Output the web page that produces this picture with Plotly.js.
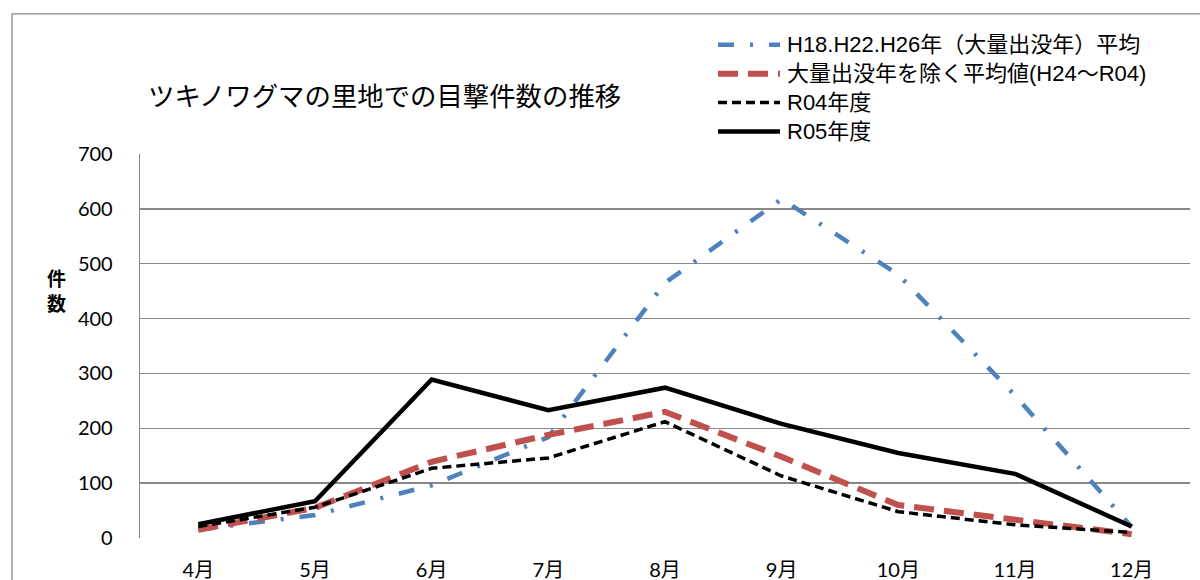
<!DOCTYPE html>
<html>
<head>
<meta charset="utf-8">
<script src="https://cdn.plot.ly/plotly-3.0.1.min.js"></script>
<style>
html,body{margin:0;padding:0;background:#fff;}
#chart{width:1200px;height:580px;}
</style>
</head>
<body>
<div id="chart"></div>
<script>
const months = ["4月","5月","6月","7月","8月","9月","10月","11月","12月"];
const seriesNames = ["H18.H22.H26年（大量出没年）平均","大量出没年を除く平均値(H24～R04)","R04年度","R05年度"];
const massYearsAvg = [15, 42, 96, 184, 465, 618, 480, 260, 20];
const normalYearsAvg = [15, 55, 139, 188, 230, 148, 60, 33, 7];
const r04 = [21, 56, 127, 146, 212, 113, 48, 24, 10];
const r05 = [25, 67, 289, 233, 274, 208, 155, 117, 21];
const yTicks = [0,100,200,300,400,500,600,700];

const jpFont = "Liberation Sans, Noto Sans CJK JP, sans-serif";
const numFont = "Lato, Noto Sans CJK JP, sans-serif";

const lineStyles = [
  {color: "#4F81BD", width: 4.5, dash: "16px,16px,3px,16px"},
  {color: "#C0504D", width: 6, dash: "20px,10px"},
  {color: "#000000", width: 3.5, dash: "9px,5px"},
  {color: "#000000", width: 4.5}
];
const seriesValues = [massYearsAvg, normalYearsAvg, r04, r05];

const traces = seriesValues.map((vals, i) => ({
  x: months, y: vals, name: seriesNames[i], mode: "lines",
  line: lineStyles[i], showlegend: false
}));

const L = 140, R = 1190, T = 153.5, B = 538.3;
const pw = R - L, ph = B - T;
const px = v => (v - L) / pw;
const py = v => (B - v) / ph;

// legend drawn as shapes + annotations (positions in pixels)
const legendRows = [44, 73, 102, 131];
const legendShapes = legendRows.map((yy, i) => ({
  type: "line", xref: "paper", yref: "paper",
  x0: px(718), x1: px(780), y0: py(yy), y1: py(yy),
  line: lineStyles[i]
}));
const legendAnns = legendRows.map((yy, i) => ({
  text: seriesNames[i], xref: "paper", yref: "paper",
  x: px(785), y: py(yy), xanchor: "left", yanchor: "middle",
  showarrow: false, font: {family: jpFont, size: 22, color: "#000"}
}));

const layout = {
  width: 1200, height: 580,
  margin: {l: L, r: 1200 - R, t: T, b: 580 - B, pad: 0},
  paper_bgcolor: "#ffffff", plot_bgcolor: "#ffffff",
  showlegend: false,
  hovermode: false,
  title: {
    text: "ツキノワグマの里地での目撃件数の推移",
    font: {family: jpFont, size: 26.4, color: "#000"},
    xref: "container", yref: "container",
    x: 148/1200, xanchor: "left",
    y: 1 - 97/580, yanchor: "middle"
  },
  xaxis: {
    type: "category",
    categoryarray: months,
    range: [-0.5, 8.5],
    showgrid: false,
    showline: false,
    zeroline: false,
    ticks: "",
    ticklabelstandoff: 18,
    tickfont: {family: numFont, size: 20, color: "#000"},
    fixedrange: true
  },
  yaxis: {
    range: [0, 700],
    tickvals: yTicks,
    ticktext: yTicks.map(String),
    showgrid: true,
    gridcolor: "#888888",
    gridwidth: 1.3,
    showline: true,
    linecolor: "#888888",
    linewidth: 1.3,
    zeroline: false,
    ticks: "",
    ticklabelstandoff: 22,
    tickfont: {family: numFont, size: 20, color: "#000"},
    fixedrange: true
  },
  shapes: [
    {type: "rect", xref: "paper", yref: "paper",
     x0: px(12), x1: px(1215), y0: py(600), y1: py(13),
     line: {color: "#888888", width: 1.3}, fillcolor: "rgba(0,0,0,0)", layer: "below"}
  ].concat(legendShapes),
  annotations: [
    {text: "<b>件</b><br><b>数</b>", xref: "paper", yref: "paper",
     x: px(56), y: py(292), xanchor: "center", yanchor: "middle",
     showarrow: false, font: {family: jpFont, size: 19, color: "#000"}}
  ].concat(legendAnns)
};

Plotly.newPlot("chart", traces, layout, {displayModeBar: false, staticPlot: true});
</script>
</body>
</html>
